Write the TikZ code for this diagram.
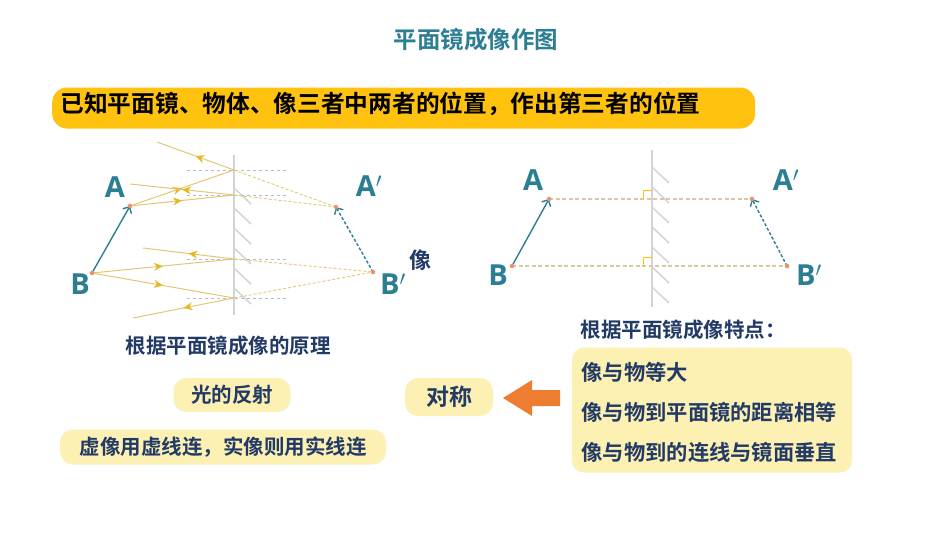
\documentclass[tikz,border=0pt]{standalone}
\usepackage{fontspec}
\setmainfont{Noto Sans CJK SC}[BoldFont={Noto Sans CJK SC Bold}]
\newfontfamily\lat{Open Sans}[BoldFont={Open Sans Bold}]
\usetikzlibrary{arrows.meta,decorations.markings}
\definecolor{teal}{HTML}{2C7E93}
\definecolor{navy}{HTML}{223A66}
\definecolor{ban}{HTML}{FFC20E}
\definecolor{pale}{HTML}{FDF0B3}
\definecolor{ray}{HTML}{E2C872}
\definecolor{rd}{HTML}{D8C9A0}
\definecolor{hz}{HTML}{B8B8DC}
\definecolor{dot}{HTML}{EE8E72}
\definecolor{mir}{HTML}{D4D4D4}
\definecolor{org}{HTML}{ED7D31}
\definecolor{arr}{HTML}{E8B820}
\tikzset{x=1pt,y=-1pt,
 lbl/.style={font=\lat\bfseries\fontsize{29}{29}\selectfont,text=teal},
 pt/.style={circle,fill=dot,inner sep=1.6pt},
 rayl/.style={ray,line width=1pt},
 rayd/.style={ray,line width=0.9pt,dashed,dash pattern=on 3pt off 2pt},
 hdash/.style={hz,line width=0.8pt,dashed},
 mirror/.style={mir,line width=2.2pt},
 hatch/.style={mir,line width=1.5pt},
 pill/.style={fill=pale,rounded corners=13pt,font=\bfseries\fontsize{20.5}{20.5}\selectfont,text=navy},
 mid/.style={decoration={markings,mark=at position 0.5 with {\arrow[arr]{Stealth[length=9pt,width=8pt]}}},postaction={decorate}},
}
\begin{document}
\begin{tikzpicture}
\useasboundingbox (0,0) rectangle (950,535);
\fill[white] (0,0) rectangle (950,535);
\node[font=\bfseries\fontsize{23.5}{23.5}\selectfont,text=teal] (title) at (476,40) {平面镜成像作图};
\node[fill=ban,rounded corners=15pt,minimum width=703pt,minimum height=41pt,anchor=west] (banner) at (52,108) {};
\node[anchor=west,font=\bfseries\fontsize{23.7}{23.7}\selectfont] (bt) at (57,104) {已知平面镜、物体、像三者中两者的位置，作出第三者的位置};
% left diagram
\draw[mirror] (234,155) -- (234,315);
\foreach \y in {188,208,...,300} \draw[hatch] (234,\y) -- (251,\y+16);
\coordinate (A) at (130,206); \coordinate (B) at (92,273);
\coordinate (Ap) at (336,207); \coordinate (Bp) at (373,272);
\coordinate (m1) at (234,170); \coordinate (m2) at (234,195);
\coordinate (m3) at (234,259); \coordinate (m4) at (234,298);
\foreach \y in {170,195,259,298} \draw[hdash] (187,\y) -- (287,\y);
\coordinate (r1) at (157,142); \coordinate (r2) at (130,184);
\coordinate (r3) at (143,248); \coordinate (r4) at (133,318);
\draw[rayl,mid] (A) -- (m1); \draw[rayl,mid] (A) -- (m2);
\draw[rayl,mid] (m1) -- (r1); \draw[rayl,mid] (m2) -- (r2);
\draw[rayl,mid] (B) -- (m3); \draw[rayl,mid] (B) -- (m4);
\draw[rayl,mid] (m3) -- (r3); \draw[rayl,mid] (m4) -- (r4);
\draw[rayd] (m1) -- (Ap); \draw[rayd] (m2) -- (Ap);
\draw[rayd] (m3) -- (Bp); \draw[rayd] (m4) -- (Bp);
\draw[teal,line width=1.4pt,-{Straight Barb[length=5pt,width=10pt]}] (B) -- (A);
\draw[teal,line width=1.4pt,dashed,dash pattern=on 3pt off 2pt,-{Straight Barb[length=5pt,width=10pt]}] (Bp) -- (Ap);
\foreach \p in {A,B,Ap,Bp} \node[pt] at (\p) {};
\node[lbl] (lA) at (115,187) {A};
\node[lbl] (lB) at (80,284) {B};
\node[lbl] (lAp) at (369,186) {A$'$};
\node[lbl] (lBp) at (393,284) {B$'$};
\node[font=\bfseries\fontsize{22}{22}\selectfont,text=navy] (xiang) at (420,260) {像};
% right diagram
\draw[mirror] (652,150) -- (652,307);
\foreach \y in {167,187,...,290} \draw[hatch] (652,\y) -- (669,\y+16);
\coordinate (A2) at (549,199); \coordinate (B2) at (512,266);
\coordinate (A2p) at (752,199); \coordinate (B2p) at (787,266);
\draw[rd,line width=1.1pt,dashed,dash pattern=on 4pt off 2.5pt] (A2) -- (A2p);
\draw[rd,line width=1.1pt,dashed,dash pattern=on 4pt off 2.5pt] (B2) -- (B2p);
\draw[ban,line width=0.9pt] (643,199) -- (643,190) -- (652,190);
\draw[ban,line width=0.9pt] (643,266) -- (643,257) -- (652,257);
\draw[teal,line width=1.4pt,-{Straight Barb[length=5pt,width=10pt]}] (B2) -- (A2);
\draw[teal,line width=1.4pt,dashed,dash pattern=on 3pt off 2pt,-{Straight Barb[length=5pt,width=10pt]}] (B2p) -- (A2p);
\foreach \p in {A2,B2,A2p,B2p} \node[pt] at (\p) {};
\node[lbl] (rA) at (533,180) {A};
\node[lbl] (rB) at (498,275) {B};
\node[lbl] (rAp) at (786,180) {A$'$};
\node[lbl] (rBp) at (809,275) {B$'$};
% bottom texts
\node[font=\bfseries\fontsize{20.5}{20.5}\selectfont,text=navy] (yl) at (228,346) {根据平面镜成像的原理};
\node[pill,minimum width=117pt,minimum height=34pt] (fs) at (232,395) {光的反射};
\node[pill,minimum width=326pt,minimum height=35pt] (xx) at (223,447) {虚像用虚线连，实像则用实线连};
\node[pill,minimum width=88pt,minimum height=38pt,font=\bfseries\fontsize{23}{23}\selectfont] (dc) at (449,397) {对称};
\fill[org] (560,390) -- (532,390) -- (532,380) -- (503,398) -- (532,416) -- (532,406) -- (560,406) -- cycle;
\node[font=\bfseries\fontsize{20.5}{20.5}\selectfont,text=navy] (td) at (683,330) {根据平面镜成像特点：};
\node[fill=pale,rounded corners=12pt,minimum width=280pt,minimum height=125pt] (box) at (712,410) {};
\node[anchor=west,font=\bfseries\fontsize{21.3}{21.3}\selectfont,text=navy] (t1) at (578,372) {像与物等大};
\node[anchor=west,font=\bfseries\fontsize{21.3}{21.3}\selectfont,text=navy] (t2) at (578,412) {像与物到平面镜的距离相等};
\node[anchor=west,font=\bfseries\fontsize{21.3}{21.3}\selectfont,text=navy] (t3) at (578,452) {像与物到的连线与镜面垂直};
\end{tikzpicture}
\end{document}
